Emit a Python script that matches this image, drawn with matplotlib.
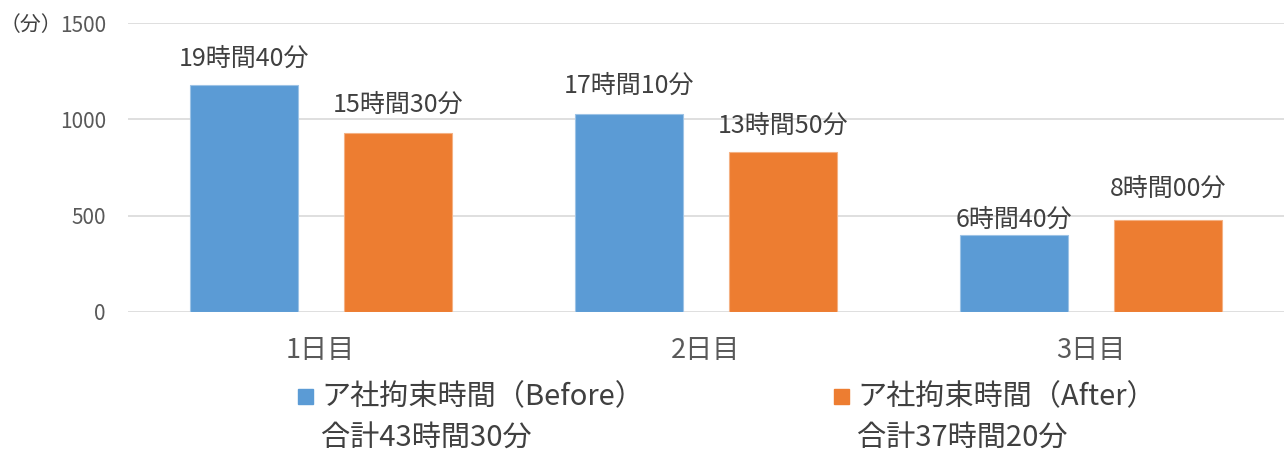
import numpy as np
import matplotlib.pyplot as plt
from matplotlib.patches import Rectangle

plt.rcParams['font.family'] = ['Noto Sans CJK JP', 'DejaVu Sans']

# data (minutes)
days = ["1日目", "2日目", "3日目"]
before = [1180, 1030, 400]
after = [930, 830, 480]
before_labels = ["19時間40分", "17時間10分", "6時間40分"]
after_labels = ["15時間30分", "13時間50分", "8時間00分"]
legend_names = ["ア社拘束時間（Before）", "ア社拘束時間（After）"]
legend_totals = ["合計43時間30分", "合計37時間20分"]
yticks = [0, 500, 1000, 1500]

blue = "#5B9BD5"
orange = "#ED7D31"
text_col = "#404040"

W, H = 1284, 455
fig = plt.figure(figsize=(W / 100, H / 100), dpi=100)
ax = fig.add_axes([128 / W, 1 - 312 / H, 1 - 128 / W, 289 / H])

x = np.arange(len(days))
w = 0.28
b1 = ax.bar(x - 0.2, before, w, color=blue, edgecolor="#9DC3E6", linewidth=0.8)
b2 = ax.bar(x + 0.2, after, w, color=orange, edgecolor="#F4B183", linewidth=0.8)

# label offsets (points, bar top -> text centre), hand-placed in the original
off_b = [19, 20, 11]
off_a = [20, 19, 22]
for bars, labels, offs in [(b1, before_labels, off_b), (b2, after_labels, off_a)]:
    for rect, lab, o in zip(bars, labels, offs):
        ax.annotate(lab, (rect.get_x() + rect.get_width() / 2, rect.get_height()),
                    xytext=(0, o), textcoords="offset points", ha="center", va="center",
                    fontsize=18, color=text_col)

ax.set_xlim(-0.5, 2.5)
ax.set_ylim(0, 1500)
ax.set_yticks(yticks)
ax.set_xticks(x)
ax.set_xticklabels(days)
ax.tick_params(axis="y", length=0, labelsize=15, labelcolor="#595959", pad=16)
ax.tick_params(axis="x", length=0, labelsize=19.5, labelcolor="#595959", pad=18)
ax.grid(axis="y", color="#D9D9D9", linewidth=1.2)
ax.set_axisbelow(True)
for s in ax.spines.values():
    s.set_visible(False)

fig.text(0, 1 - 25 / H, "（分）", fontsize=15, color=text_col, va="center", ha="left")

# legend drawn by hand (two-line entries, marker aligned with first line)
for mx, col, name, total in [(298, blue, legend_names[0], legend_totals[0]),
                             (834, orange, legend_names[1], legend_totals[1])]:
    fig.add_artist(Rectangle((mx / W, 1 - 404 / H), 15 / W, 15 / H,
                             transform=fig.transFigure, color=col))
    fig.text((mx + 23) / W, 1 - 397 / H, name, fontsize=21, color=text_col,
             va="center", ha="left")
    fig.text((mx + 23) / W, 1 - 439 / H, total, fontsize=21, color=text_col,
             va="center", ha="left")

fig.savefig("out.png", dpi=100)
